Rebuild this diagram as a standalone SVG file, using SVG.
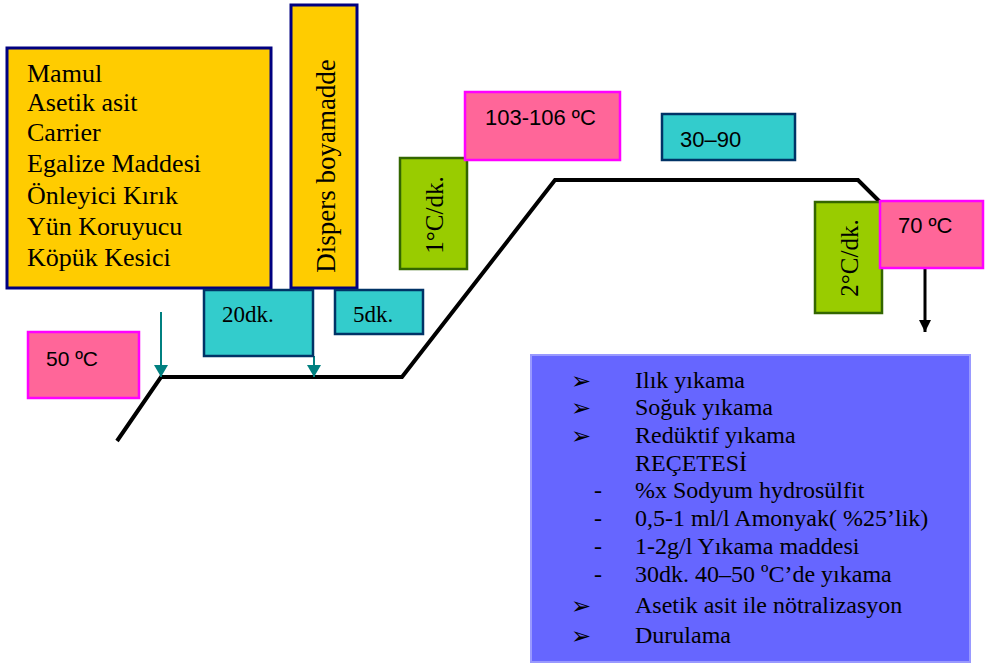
<svg xmlns="http://www.w3.org/2000/svg" width="986" height="664" viewBox="0 0 986 664">
  <defs>
    <style>
      .serif { font-family: "Liberation Serif", "Times New Roman", serif; fill: #000; }
      .sans { font-family: "Liberation Sans", Arial, sans-serif; fill: #000; }
      .chem { fill: #FFCC00; stroke: #000080; stroke-width: 3; }
      .time { fill: #33CCCC; stroke: #003366; stroke-width: 2.5; }
      .temp { fill: #FF6699; stroke: #FF00FF; stroke-width: 2.5; }
      .rate { fill: #99CC00; stroke: #336600; stroke-width: 2.5; }
      .wash { fill: #6666FF; stroke: #9999FF; stroke-width: 2; }
      .bullet { font-family: "DejaVu Sans", sans-serif; font-size: 24px; fill: #000; }
    </style>
    <marker id="tealHead" markerWidth="14" markerHeight="12" refX="7" refY="12" markerUnits="userSpaceOnUse" viewBox="0 0 14 12">
      <path d="M0,0 L14,0 L7,12 Z" fill="#008080"/>
    </marker>
    <marker id="blackHead" markerWidth="12" markerHeight="12" refX="6" refY="12" markerUnits="userSpaceOnUse" viewBox="0 0 12 12">
      <path d="M0,0 L12,0 L6,12 Z" fill="#000"/>
    </marker>
  </defs>

  <rect width="986" height="664" fill="#FFFFFF"/>

  <!-- temperature profile and arrows -->
  <g id="connectors">
    <path d="M117,441 L161,377 L402,377 L555,180 L858,180 L880,202" fill="none" stroke="#000" stroke-width="4" stroke-linejoin="miter"/>
    <line x1="161" y1="312" x2="161" y2="377" stroke="#008080" stroke-width="2" marker-end="url(#tealHead)"/>
    <line x1="314" y1="356" x2="314" y2="377" stroke="#008080" stroke-width="2" marker-end="url(#tealHead)"/>
    <line x1="925" y1="268" x2="925" y2="332" stroke="#000" stroke-width="3" marker-end="url(#blackHead)"/>
  </g>

  <!-- chemicals added at start -->
  <g id="chemicals">
    <rect class="chem" x="7" y="48" width="264" height="240"/>
    <g class="serif" font-size="26">
      <text x="27" y="82">Mamul</text>
      <text x="27" y="111">Asetik asit</text>
      <text x="27" y="141">Carrier</text>
      <text x="27" y="172">Egalize Maddesi</text>
      <text x="27" y="204">Önleyici Kırık</text>
      <text x="27" y="235">Yün Koruyucu</text>
      <text x="27" y="266">Köpük Kesici</text>
    </g>
  </g>

  <g id="dye">
    <rect class="chem" x="291" y="5" width="66" height="283"/>
    <text class="serif" font-size="27" text-anchor="middle" transform="translate(335,166) rotate(-90)">Dispers boyamadde</text>
  </g>

  <g id="t20">
    <rect class="time" x="204" y="290" width="109" height="66"/>
    <text class="serif" font-size="23" x="222" y="322">20dk.</text>
  </g>

  <g id="t5">
    <rect class="time" x="335" y="290" width="88" height="44"/>
    <text class="serif" font-size="23" x="353" y="322">5dk.</text>
  </g>

  <g id="temp50">
    <rect class="temp" x="28" y="332" width="111" height="66"/>
    <text class="sans" font-size="21" x="46" y="366">50 ºC</text>
  </g>

  <g id="rate1">
    <rect class="rate" x="400" y="158" width="67" height="111"/>
    <text class="serif" font-size="25" text-anchor="middle" transform="translate(443,215) rotate(-90)">1°C/dk.</text>
  </g>

  <g id="temp103">
    <rect class="temp" x="465" y="92" width="155" height="68"/>
    <text class="sans" font-size="22" x="485" y="125">103-106 ºC</text>
  </g>

  <g id="t3090">
    <rect class="time" x="662" y="114" width="133" height="46"/>
    <text class="sans" font-size="22" x="680" y="147">30–90</text>
  </g>

  <g id="rate2">
    <rect class="rate" x="815" y="202" width="67" height="111"/>
    <text class="serif" font-size="25" text-anchor="middle" transform="translate(858,258) rotate(-90)">2°C/dk.</text>
  </g>

  <g id="temp70">
    <rect class="temp" x="880" y="201" width="103" height="67"/>
    <text class="sans" font-size="22" x="898" y="233">70 ºC</text>
  </g>

  <!-- after-treatment steps -->
  <g id="washing">
    <rect class="wash" x="531" y="355" width="439" height="307"/>
    <g class="bullet">
      <text x="571" y="389">➢</text>
      <text x="571" y="416">➢</text>
      <text x="571" y="444">➢</text>
      <text x="571" y="614">➢</text>
      <text x="571" y="644">➢</text>
    </g>
    <g class="serif" font-size="24">
      <text x="594" y="498">-</text>
      <text x="594" y="526">-</text>
      <text x="594" y="554">-</text>
      <text x="594" y="582">-</text>
    </g>
    <g class="serif" font-size="24">
      <text x="635" y="388">Ilık yıkama</text>
      <text x="635" y="415">Soğuk yıkama</text>
      <text x="635" y="443">Redüktif yıkama</text>
      <text x="635" y="471">REÇETESİ</text>
      <text x="635" y="498">%x Sodyum hydrosülfit</text>
      <text x="635" y="526">0,5-1 ml/l Amonyak( %25’lik)</text>
      <text x="635" y="554">1-2g/l Yıkama maddesi</text>
      <text x="635" y="582">30dk. 40–50 ºC’de yıkama</text>
      <text x="635" y="613">Asetik asit ile nötralizasyon</text>
      <text x="635" y="643">Durulama</text>
    </g>
  </g>
</svg>
